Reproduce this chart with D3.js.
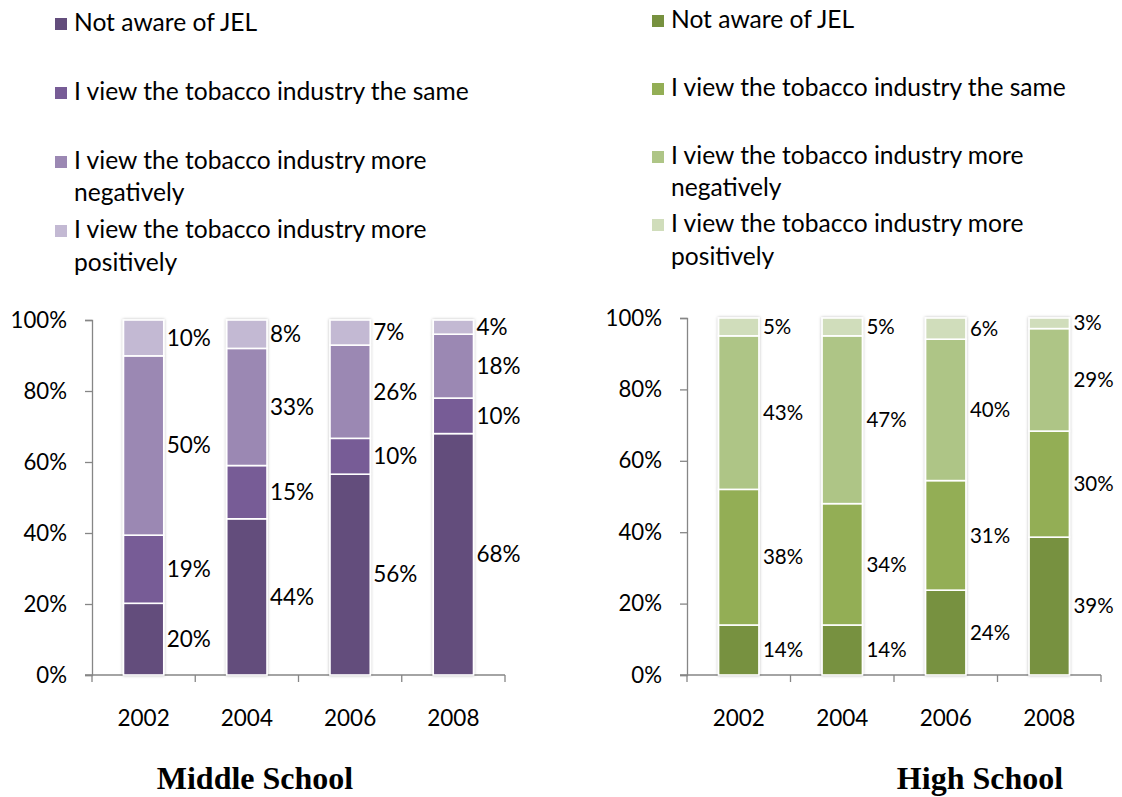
<!DOCTYPE html>
<html>
<head>
<meta charset="utf-8">
<script src="https://cdn.jsdelivr.net/npm/d3@7"></script>
<style>
  html, body { margin: 0; padding: 0; background: #fff; }
  svg { display: block; }
  text { font-family: Lato, "Open Sans", sans-serif; fill: #000; }
  .title { font-family: "Liberation Serif", "Times New Roman", serif; font-weight: bold; }
</style>
</head>
<body>
<svg id="chart" width="1122" height="797"></svg>
<script>
// Survey years
const years = ["2002", "2004", "2006", "2008"];

// Response categories (stack order, bottom to top)
const responses = [
  "Not aware of JEL",
  "I view the tobacco industry the same",
  "I view the tobacco industry more negatively",
  "I view the tobacco industry more positively"
];

// Middle school responses (%)
const middleNotAware = [20, 44, 56, 68];
const middleSame     = [19, 15, 10, 10];
const middleNegative = [50, 33, 26, 18];
const middlePositive = [10, 8, 7, 4];

// High school responses (%)
const highNotAware = [14, 14, 24, 39];
const highSame     = [38, 34, 31, 30];
const highNegative = [43, 47, 40, 29];
const highPositive = [5, 5, 6, 3];

// Axis tick labels
const tickValues = [0, 0.2, 0.4, 0.6, 0.8, 1];
const tickLabels = ["0%", "20%", "40%", "60%", "80%", "100%"];

const purples = ["#634d7c", "#775c96", "#9b88b3", "#c3b9d3"];
const greens  = ["#77913f", "#93ae55", "#aec586", "#d0ddbb"];

const svg = d3.select("#chart");

// soft shadow around the bar columns
const defs = svg.append("defs");
const f = defs.append("filter").attr("id", "shadow")
  .attr("x", "-30%").attr("y", "-5%").attr("width", "160%").attr("height", "110%");
f.append("feDropShadow").attr("dx", 0).attr("dy", 0).attr("stdDeviation", 1.6)
  .attr("flood-color", "#000").attr("flood-opacity", 0.28);

function buildRows(cols) {
  return years.map((yr, i) => {
    const row = { year: yr };
    responses.forEach((r, k) => { row[r] = cols[k][i]; });
    return row;
  });
}

function drawPanel(opts) {
  const rows = buildRows(opts.columns);
  const stacked = d3.stack().keys(responses).offset(d3.stackOffsetExpand)(rows);

  const x = d3.scaleBand().domain(years).range([opts.x0, opts.x1]).paddingInner(0.61).paddingOuter(0.305);
  const y = d3.scaleLinear().domain([0, 1]).range([opts.yBottom, opts.yTop]);
  const color = d3.scaleOrdinal().domain(responses).range(opts.colors);

  const g = svg.append("g");

  // legend
  const leg = g.append("g");
  opts.legendRows.forEach((lines, k) => {
    const row = leg.append("g");
    row.append("rect")
      .attr("x", opts.legendX).attr("y", lines[0].y - 13)
      .attr("width", 12).attr("height", 12)
      .attr("fill", color(responses[k]));
    lines.forEach(ln => {
      row.append("text")
        .attr("x", opts.legendX + 19).attr("y", ln.y)
        .attr("font-size", 24.6)
        .text(ln.t);
    });
  });

  // y axis
  const yAxis = d3.axisLeft(y).tickValues(tickValues)
    .tickFormat((d, i) => tickLabels[i]).tickSize(7).tickPadding(18);
  const ya = g.append("g").attr("transform", `translate(${opts.x0},0)`).call(yAxis);
  ya.selectAll("path, line").attr("stroke", "#868686").attr("stroke-width", 1.3);
  ya.selectAll("text").attr("font-size", 22.2).attr("font-family", "Lato, sans-serif").attr("fill", "#000");

  // x axis with ticks at category boundaries
  const xa = g.append("g");
  xa.append("line")
    .attr("x1", opts.x0 - 7).attr("x2", opts.x1)
    .attr("y1", opts.yBottom).attr("y2", opts.yBottom)
    .attr("stroke", "#868686").attr("stroke-width", 1.3);
  d3.range(years.length + 1).forEach(i => {
    const bx = opts.x0 + i * (opts.x1 - opts.x0) / years.length;
    xa.append("line")
      .attr("x1", bx).attr("x2", bx)
      .attr("y1", opts.yBottom).attr("y2", opts.yBottom + 7)
      .attr("stroke", "#868686").attr("stroke-width", 1.3);
  });
  xa.selectAll("text.year").data(years).join("text")
    .attr("class", "year")
    .attr("x", d => x(d) + x.bandwidth() / 2)
    .attr("y", opts.yBottom + 51)
    .attr("text-anchor", "middle")
    .attr("font-size", 22.5)
    .text(d => d);

  // bars
  const bars = g.append("g");
  years.forEach((yr, i) => {
    const col = bars.append("g").attr("filter", "url(#shadow)");
    stacked.forEach(layer => {
      const seg = layer[i];
      col.append("rect")
        .attr("x", x(yr))
        .attr("y", y(seg[1]))
        .attr("width", x.bandwidth())
        .attr("height", y(seg[0]) - y(seg[1]))
        .attr("fill", color(layer.key))
        .attr("stroke", "#fff")
        .attr("stroke-width", 1.6);
    });
  });

  // value labels beside each segment
  const labels = g.append("g");
  stacked.forEach(layer => {
    layer.forEach((seg, i) => {
      const yr = years[i];
      labels.append("text")
        .attr("x", x(yr) + x.bandwidth() + opts.labelGap)
        .attr("y", y((seg[0] + seg[1]) / 2))
        .attr("dy", "0.35em")
        .attr("font-size", opts.labelSize)
        .text(seg.data[layer.key] + "%");
    });
  });

  // panel title
  g.append("text").attr("class", "title")
    .attr("x", opts.titleX).attr("y", 789)
    .attr("text-anchor", "middle")
    .attr("font-size", 32)
    .text(opts.title);
}

drawPanel({
  columns: [middleNotAware, middleSame, middleNegative, middlePositive],
  colors: purples,
  x0: 92, x1: 505, yTop: 320, yBottom: 675,
  legendX: 55,
  legendRows: [
    [{ t: "Not aware of JEL", y: 31 }],
    [{ t: "I view the tobacco industry the same", y: 100 }],
    [{ t: "I view the tobacco industry more", y: 169 }, { t: "negatively", y: 201 }],
    [{ t: "I view the tobacco industry more", y: 238 }, { t: "positively", y: 271 }]
  ],
  labelSize: 22.5, labelGap: 3,
  title: "Middle School", titleX: 255
});

drawPanel({
  columns: [highNotAware, highSame, highNegative, highPositive],
  colors: greens,
  x0: 687, x1: 1101, yTop: 318, yBottom: 675,
  legendX: 652,
  legendRows: [
    [{ t: "Not aware of JEL", y: 28 }],
    [{ t: "I view the tobacco industry the same", y: 96 }],
    [{ t: "I view the tobacco industry more", y: 164 }, { t: "negatively", y: 196 }],
    [{ t: "I view the tobacco industry more", y: 232 }, { t: "positively", y: 265 }]
  ],
  labelSize: 20.5, labelGap: 4,
  title: "High School", titleX: 980
});
</script>
</body>
</html>
